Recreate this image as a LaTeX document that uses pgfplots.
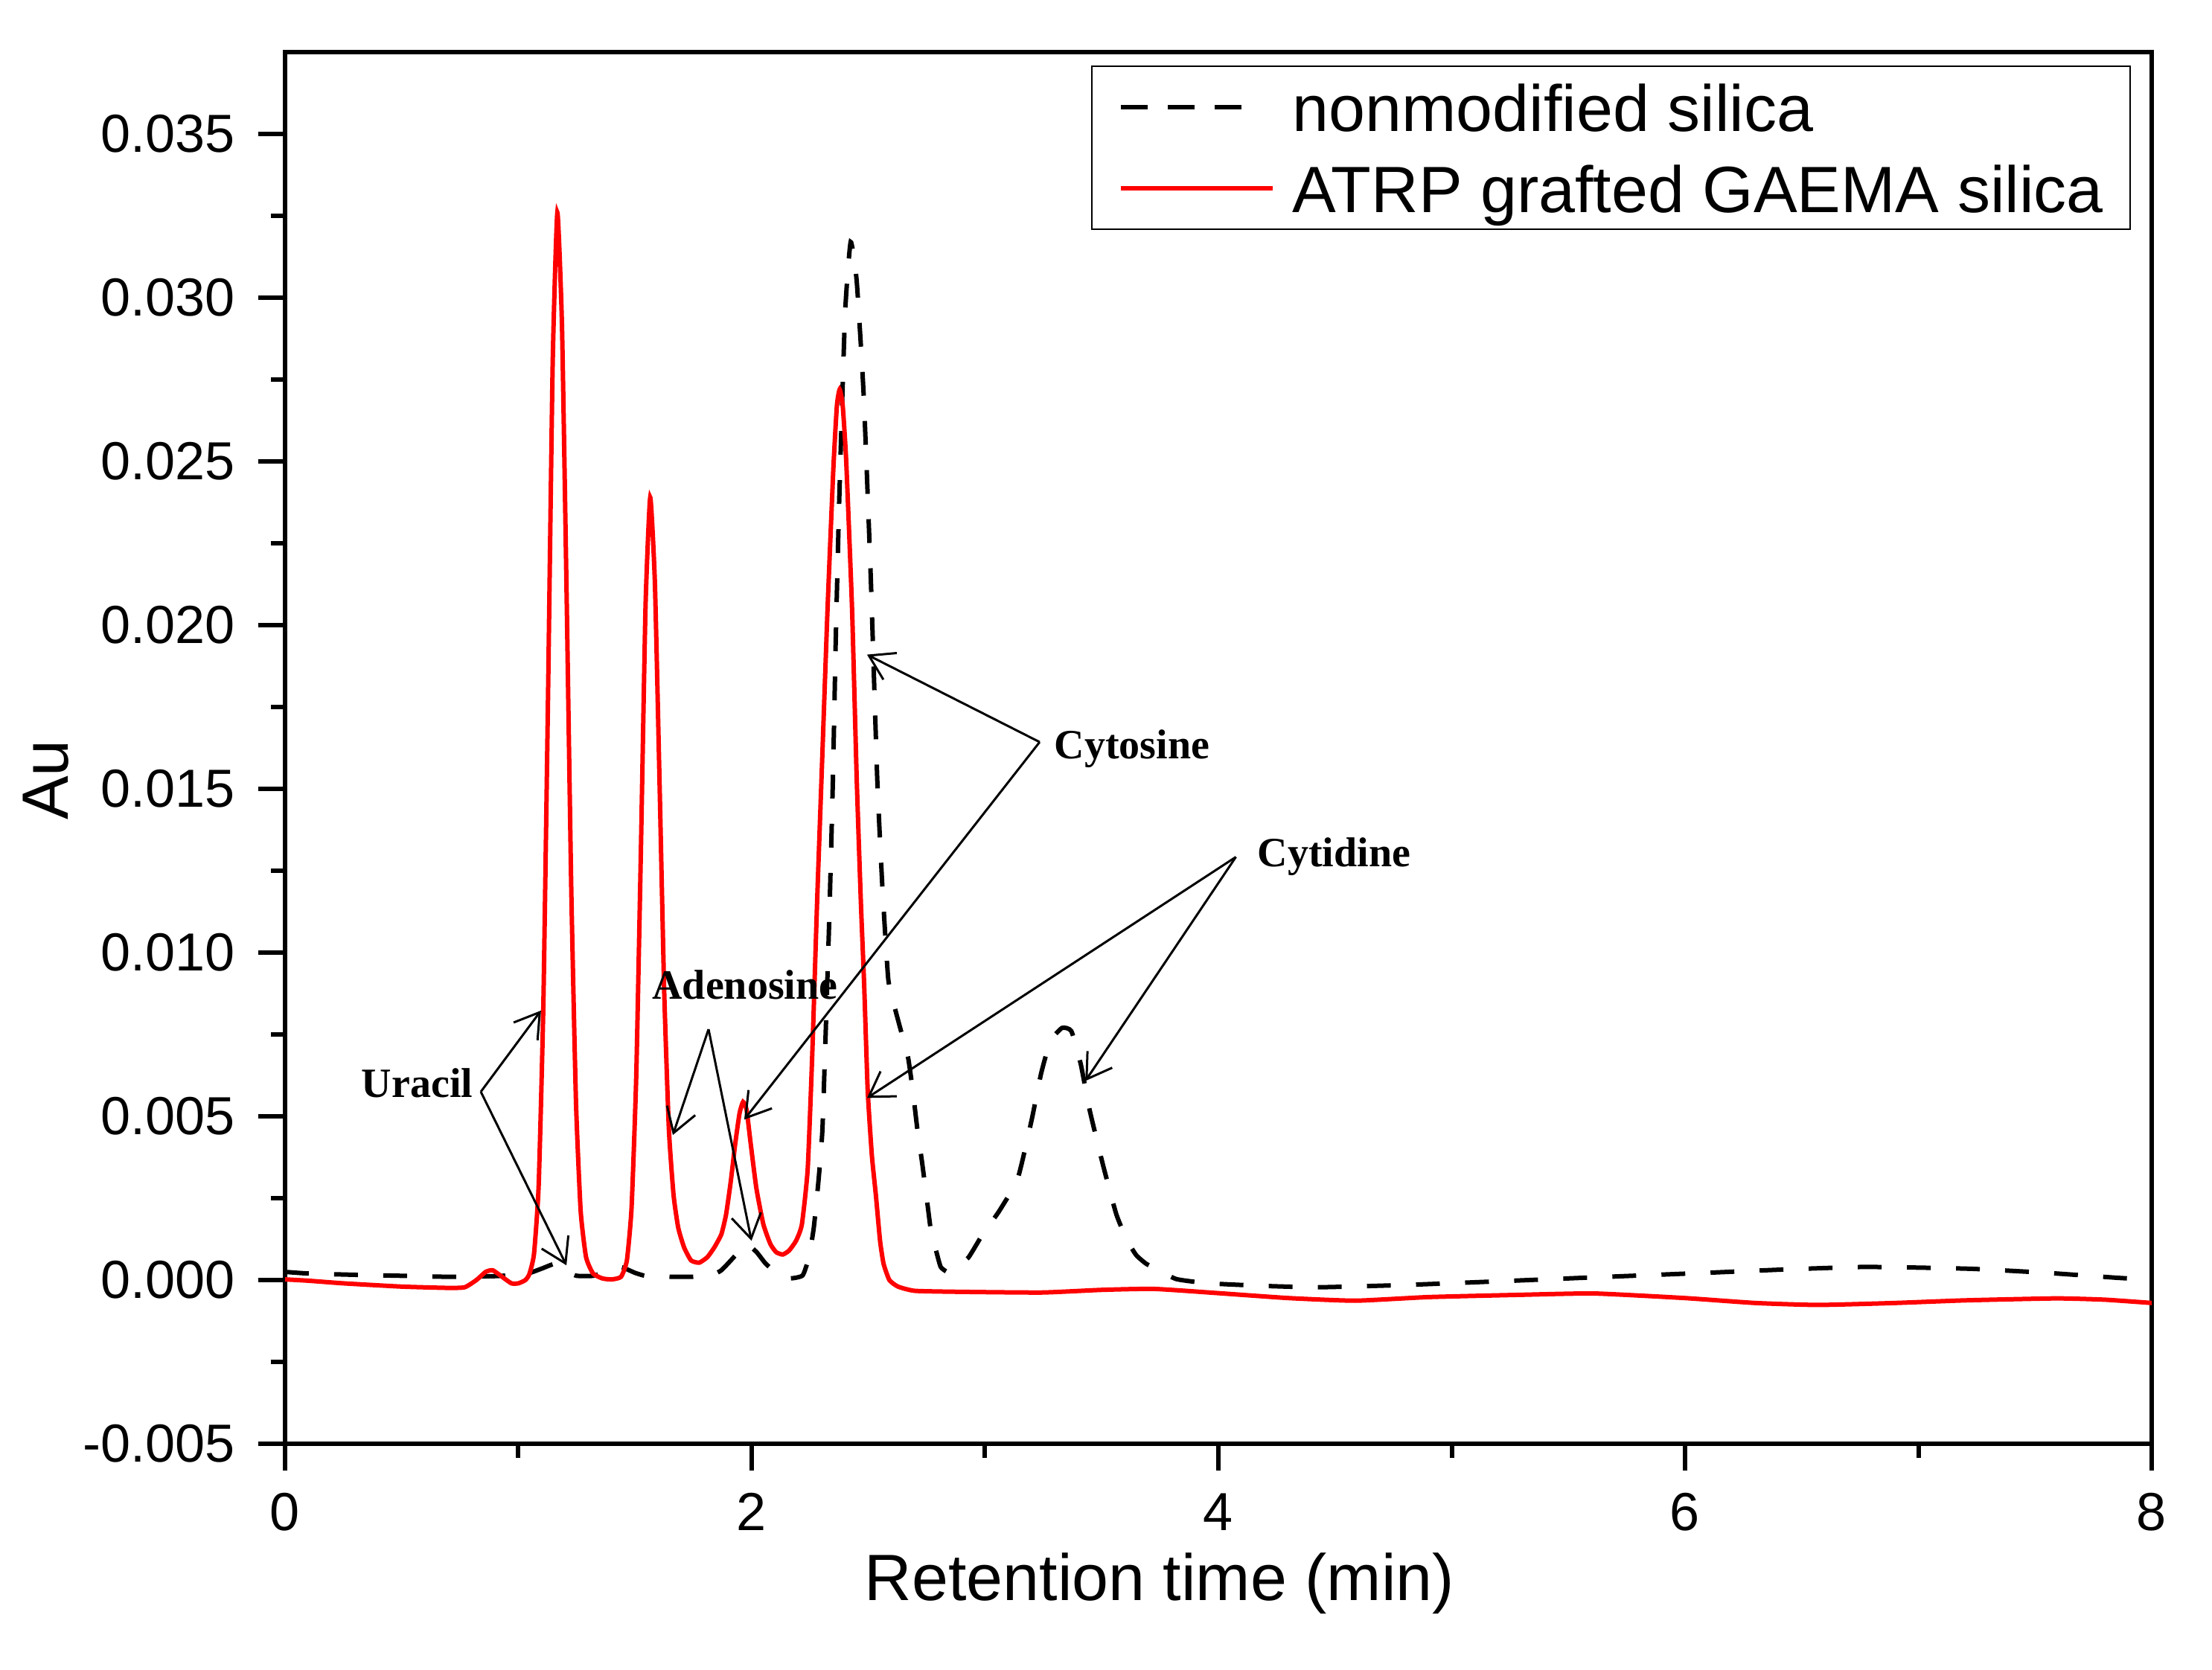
\documentclass[border=0pt]{standalone}
\usepackage{fontspec}
\setmainfont{Liberation Sans}
\newfontfamily\annfont{Liberation Serif}
\usepackage{pgfplots}
\pgfplotsset{compat=1.18}
\usetikzlibrary{arrows.meta}

\pgfplotstableread{
x y
0.00 0.00002
0.10 -0.00002
0.25 -0.0001
0.50 -0.0002
0.70 -0.00024
0.77 -0.00022
0.82 0.0000
0.86 0.00025
0.89 0.0003
0.93 0.0001
0.97 -0.0001
1.00 -0.0001
1.03 0.0000
1.047 0.00018
1.067 0.0008
1.087 0.0029
1.107 0.0084
1.127 0.0178
1.147 0.0280
1.167 0.0326
1.187 0.0291
1.207 0.0208
1.227 0.0118
1.247 0.0054
1.267 0.0021
1.29 0.0007
1.32 0.0002
1.36 0.00005
1.40 0.00002
1.44 0.0001
1.465 0.0006
1.485 0.0022
1.505 0.0062
1.525 0.0131
1.545 0.0206
1.565 0.0239
1.585 0.0213
1.605 0.0152
1.625 0.0088
1.645 0.0046
1.665 0.0026
1.685 0.0016
1.71 0.0010
1.74 0.0006
1.775 0.00053
1.81 0.0007
1.84 0.0010
1.87 0.0014
1.89 0.0020
1.91 0.0030
1.93 0.0042
1.948 0.0051
1.963 0.00544
1.978 0.0052
1.995 0.0042
2.02 0.0028
2.05 0.0017
2.08 0.0011
2.105 0.00085
2.133 0.00078
2.16 0.0009
2.19 0.0012
2.215 0.0017
2.24 0.0034
2.26 0.0070
2.28 0.0115
2.30 0.0155
2.325 0.0205
2.35 0.0248
2.365 0.0267
2.377 0.0272
2.39 0.0267
2.405 0.0250
2.43 0.0205
2.45 0.0153
2.468 0.0115
2.482 0.0090
2.497 0.0058
2.515 0.0038
2.532 0.0026
2.55 0.0012
2.565 0.0005
2.59 0.0000
2.627 -0.0002
2.70 -0.00033
2.90 -0.00036
3.244 -0.00038
3.50 -0.0003
3.724 -0.00027
4.00 -0.0004
4.30 -0.00055
4.587 -0.00063
4.90 -0.00052
5.30 -0.00045
5.611 -0.00041
6.00 -0.00055
6.30 -0.0007
6.57 -0.00076
6.90 -0.0007
7.20 -0.00062
7.59 -0.00056
7.80 -0.0006
8.00 -0.0007
}\grafted

\pgfplotstableread{
x y
0.00 0.00025
0.10 0.0002
0.30 0.00016
0.50 0.00013
0.70 0.0001
0.90 0.00012
1.03 0.00018
1.10 0.00035
1.16 0.0005
1.21 0.00025
1.25 0.00013
1.32 0.00013
1.40 0.0003
1.44 0.0004
1.50 0.00022
1.55 0.00012
1.65 0.0001
1.75 0.0001
1.82 0.00012
1.87 0.0003
1.93 0.00075
1.975 0.0011
2.02 0.00086
2.06 0.0005
2.107 0.00022
2.16 0.00005
2.218 0.00014
2.245 0.0007
2.266 0.0016
2.287 0.0031
2.303 0.0046
2.319 0.0080
2.333 0.0112
2.348 0.0153
2.36 0.0195
2.375 0.0238
2.40 0.0295
2.424 0.0317
2.45 0.0305
2.48 0.0270
2.51 0.0215
2.538 0.0153
2.56 0.0120
2.585 0.0092
2.61 0.0084
2.64 0.0076
2.67 0.0068
2.69 0.0058
2.71 0.0046
2.73 0.0036
2.75 0.0025
2.77 0.0014
2.79 0.0009
2.81 0.0004
2.84 0.00025
2.88 0.0004
2.93 0.0007
2.99 0.0014
3.06 0.0021
3.14 0.0031
3.20 0.0049
3.24 0.0063
3.28 0.0073
3.33 0.0077
3.37 0.0076
3.41 0.0066
3.448 0.0052
3.506 0.0035
3.563 0.0020
3.61 0.0012
3.648 0.00076
3.69 0.0005
3.734 0.00034
3.82 0.00003
3.96 -0.0001
4.20 -0.00018
4.43 -0.00022
4.80 -0.00015
5.16 -0.00005
5.60 0.00008
6.12 0.00023
6.45 0.00033
6.76 0.0004
7.00 0.00038
7.24 0.00034
7.55 0.00022
7.85 0.00007
7.95 0.00003
}\nonmod

\begin{document}
\begin{tikzpicture}
\begin{axis}[
  at={(0pt,0pt)}, anchor=south west,
  scale only axis, width=627pt, height=467.5pt,
  xmin=0, xmax=8, ymin=-0.005, ymax=0.0375,
  scaled y ticks=false,
  xtick={0,2,4,6,8}, minor xtick={1,3,5,7},
  ytick={-0.005,0,0.005,0.010,0.015,0.020,0.025,0.030,0.035},
  yticklabels={-0.005,0.000,0.005,0.010,0.015,0.020,0.025,0.030,0.035},
  minor ytick={-0.0025,0.0025,0.0075,0.0125,0.0175,0.0225,0.0275,0.0325},
  xtick pos=bottom, ytick pos=left,
  tick align=outside,
  major tick length=9pt, minor tick length=4.75pt,
  every tick/.append style={black, line width=1.5pt},
  axis line style={line width=1.6pt},
  /pgf/number format/assume math mode=true,
  ticklabel style={font=\fontsize{18}{21}\selectfont},
  yticklabel style={anchor=east, inner sep=0pt, xshift=-7.75pt},
  xticklabel style={anchor=base, inner sep=0pt, yshift=-20pt},
  xlabel={Retention time (min)}, ylabel={Au},
  label style={font=\fontsize{22}{26}\selectfont},
  xlabel style={at={(axis description cs:0.4685,0)}, anchor=base, yshift=-52.5pt},
  ylabel style={at={(axis description cs:-0.128,0.477)}, anchor=center},
  legend style={at={(axis description cs:0.9888,0.9904)}, anchor=north east,
    draw=black, line width=0.6pt, inner xsep=9pt, inner ysep=1pt,
    font=\fontsize{22}{26}\selectfont,
    nodes={inner sep=0pt, text height=20.75pt, text depth=4.75pt},
    row sep=1.75pt, column sep=6pt},
  legend cell align=left,
]
\addplot[black, line width=1.5pt, dash pattern=on 8pt off 8.5pt, smooth, tension=0.3,
  legend image code/.code={\draw[black, line width=1.5pt, dash pattern=on 9pt off 6.75pt] (0pt,0pt) -- (40.5pt,0pt); \path (0pt,-2pt) (51pt,4pt);}]
  table[x=x,y=y] {\nonmod};
\addlegendentry{nonmodified silica}
\addplot[red, line width=1.5pt, smooth, tension=0.3,
  legend image code/.code={\draw[red, line width=1.5pt] (0pt,0pt) -- (51pt,0pt); \path (0pt,-2pt) (51pt,4pt);}]
  table[x=x,y=y] {\grafted};
\addlegendentry{ATRP grafted GAEMA silica}

\tikzset{ann/.style={black, line width=0.75pt, -{Straight Barb[length=8pt,width=10pt]}},
  annt/.style={font=\annfont\bfseries\fontsize{14}{16}\selectfont, anchor=base, inner sep=0pt}}
% Uracil
\node[annt, anchor=base east] at (axis cs:0.807,0.00559) {Uracil};
\draw[ann] (axis cs:0.839,0.00575) -- (axis cs:1.097,0.00823);
\draw[ann] (axis cs:0.839,0.00575) -- (axis cs:1.206,0.00045);
% Adenosine
\node[annt] at (axis cs:1.971,0.00857) {Adenosine};
\draw[ann] (axis cs:1.815,0.00766) -- (axis cs:1.662,0.00443);
\draw[ann] (axis cs:1.815,0.00766) -- (axis cs:1.999,0.0012);
% Cytosine
\node[annt] at (axis cs:3.630,0.01593) {Cytosine};
\draw[ann] (axis cs:3.234,0.01643) -- (axis cs:2.494,0.0191);
\draw[ann] (axis cs:3.234,0.01643) -- (axis cs:1.968,0.0049);
% Cytidine
\node[annt] at (axis cs:4.496,0.01262) {Cytidine};
\draw[ann] (axis cs:4.075,0.01292) -- (axis cs:2.494,0.00556);
\draw[ann] (axis cs:4.075,0.01292) -- (axis cs:3.43,0.00608);
\end{axis}
\path (-95.75pt,-75.75pt) rectangle (647.25pt,485pt);
\end{tikzpicture}
\end{document}
